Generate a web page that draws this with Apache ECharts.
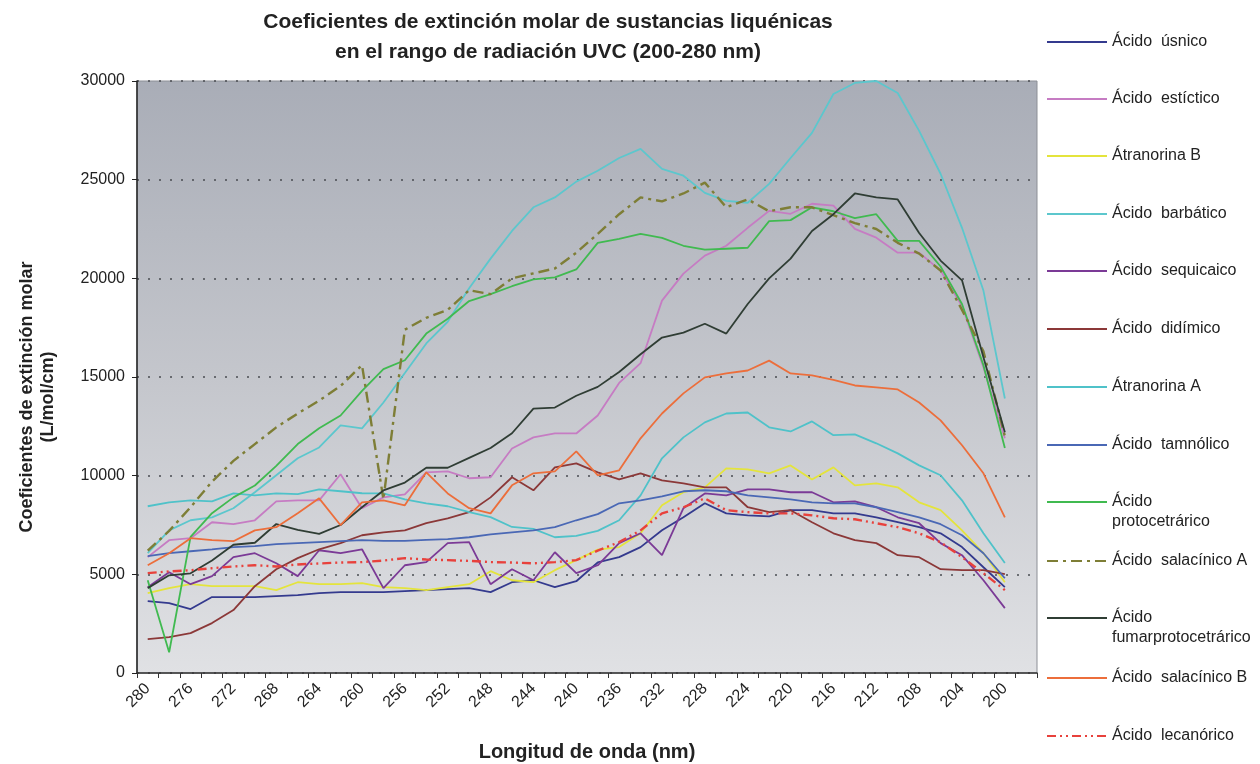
<!DOCTYPE html>
<html>
<head>
<meta charset="utf-8">
<title>Coeficientes de extinción molar</title>
<script src="https://cdn.jsdelivr.net/npm/echarts@6/dist/echarts.min.js"></script>
<style>
  html, body { margin: 0; padding: 0; background: #fff; }
  #chart { width: 1260px; height: 764px; }
</style>
</head>
<body>
<div id="chart"></div>
<script>
// longitudes de onda (nm), de 280 a 198
const wavelengths = ['280', '278', '276', '274', '272', '270', '268', '266', '264', '262',
  '260', '258', '256', '254', '252', '250', '248', '246', '244', '242',
  '240', '238', '236', '234', '232', '230', '228', '226', '224', '222',
  '220', '218', '216', '214', '212', '210', '208', '206', '204', '202',
  '200', '198']

const usnico = [3640, 3540, 3240, 3850, 3850, 3850, 3900, 3950, 4050, 4100,
  4100, 4100, 4150, 4200, 4250, 4300, 4100, 4600, 4700, 4350,
  4650, 5600, 5870, 6380, 7230, 7890, 8600, 8090, 7990, 7940,
  8250, 8250, 8090, 8090, 7890, 7640, 7390, 7080, 6380, 5360, 4350]
const estictico = [5870, 6730, 6830, 7640, 7540, 7740, 8700, 8750, 8750, 10070,
  8350, 8900, 9050, 10170, 10220, 9870, 9920, 11380, 11940, 12140,
  12140, 13050, 14700, 15700, 18870, 20240, 21150, 21650, 22560, 23420,
  23270, 23780, 23680, 22510, 22060, 21300, 21300, 20390, 18600, 15500, 11900]
const atranorinaB = [4050, 4300, 4500, 4400, 4400, 4400, 4200, 4600, 4500, 4500,
  4550, 4350, 4300, 4200, 4350, 4500, 5160, 4700, 4600, 5210,
  5720, 6250, 6380, 7080, 8500, 9160, 9410, 10370, 10320, 10120,
  10520, 9810, 10420, 9510, 9610, 9410, 8650, 8250, 7230, 6070, 4600]
const barbatico = [6070, 7230, 7740, 7890, 8350, 9160, 10020, 10880, 11430, 12550,
  12400, 13710, 15200, 16700, 17800, 19500, 21000, 22400, 23600, 24100,
  24900, 25450, 26100, 26560, 25550, 25200, 24330, 23930, 23830, 24790,
  26100, 27370, 29340, 29900, 30000, 29390, 27470, 25300, 22560, 19380, 13910]
const sequicaico = [4350, 5110, 4500, 4910, 5870, 6070, 5560, 4910, 6220, 6070,
  6270, 4300, 5460, 5620, 6580, 6630, 4500, 5260, 4700, 6120,
  5060, 5460, 6580, 7080, 5970, 8350, 9100, 9000, 9310, 9310,
  9160, 9160, 8650, 8700, 8400, 7890, 7590, 6580, 5970, 4700, 3290]
const didimico = [1720, 1820, 2020, 2530, 3190, 4400, 5260, 5820, 6270, 6580,
  6980, 7130, 7230, 7590, 7840, 8150, 8900, 9920, 9260, 10420,
  10620, 10170, 9810, 10120, 9760, 9610, 9410, 9410, 8400, 8150,
  8250, 7640, 7080, 6730, 6580, 5970, 5870, 5260, 5210, 5210, 5010]
const atranorinaA = [8450, 8650, 8750, 8700, 9100, 9000, 9100, 9060, 9310, 9210,
  9110, 9100, 8800, 8600, 8450, 8150, 7900, 7400, 7300, 6880,
  6950, 7200, 7740, 9000, 10880, 11940, 12700, 13150, 13200, 12450,
  12240, 12750, 12050, 12090, 11640, 11130, 10520, 10020, 8750, 7080, 5570]
const tamnolico = [5920, 6070, 6170, 6270, 6380, 6430, 6530, 6580, 6630, 6680,
  6730, 6700, 6700, 6750, 6780, 6880, 7030, 7130, 7230, 7390,
  7740, 8050, 8600, 8750, 8950, 9210, 9260, 9210, 9000, 8900,
  8800, 8650, 8600, 8600, 8400, 8150, 7890, 7540, 6980, 6070, 4800]
const protocetrarico = [4700, 1050, 6900, 8100, 8900, 9500, 10500, 11600, 12400, 13050,
  14300, 15400, 15850, 17200, 17950, 18850, 19200, 19600, 19950, 20050,
  20450, 21800, 22000, 22250, 22050, 21650, 21450, 21500, 21550, 22900,
  22950, 23600, 23400, 23050, 23250, 21900, 21900, 20600, 18700, 15600, 11400]
const salacinicoA = [6200, 7200, 8400, 9700, 10750, 11600, 12450, 13150, 13800, 14550,
  15600, 8800, 17400, 18000, 18400, 19400, 19200, 20000, 20250, 20500,
  21300, 22250, 23250, 24100, 23900, 24300, 24850, 23600, 24000, 23400,
  23600, 23600, 23200, 22800, 22500, 21800, 21250, 20400, 18400, 16300, 12000]
const fumarprotocetrarico = [4300, 4950, 5050, 5700, 6500, 6600, 7550, 7250, 7050, 7500,
  8400, 9250, 9650, 10400, 10400, 10900, 11400, 12150, 13400, 13450,
  14050, 14500, 15250, 16150, 17000, 17250, 17700, 17200, 18700, 20000,
  21000, 22400, 23250, 24300, 24100, 24000, 22300, 20900, 19900, 16000, 12200]
const salacinicoB = [5460, 6070, 6830, 6730, 6680, 7230, 7390, 8090, 8850, 7490,
  8650, 8750, 8500, 10170, 9100, 8350, 8090, 9510, 10120, 10220,
  11230, 10020, 10270, 11890, 13150, 14170, 14980, 15180, 15330, 15830,
  15180, 15080, 14850, 14570, 14470, 14370, 13710, 12800, 11540, 10120, 7890]
const lecanorico = [5060, 5150, 5210, 5310, 5400, 5460, 5400, 5500, 5550, 5600,
  5620, 5700, 5820, 5750, 5720, 5680, 5620, 5600, 5560, 5620,
  5720, 6200, 6630, 7230, 8090, 8400, 8850, 8250, 8150, 8090,
  8090, 7990, 7840, 7790, 7590, 7390, 7080, 6630, 5870, 5060, 4200]

const yTicks = [0, 5000, 10000, 15000, 20000, 25000, 30000]

const seriesDefs = [
  { name: 'Ácido  úsnico', data: usnico, color: '#343a8e' },
  { name: 'Ácido  estíctico', data: estictico, color: '#c67cc3' },
  { name: 'Átranorina B', data: atranorinaB, color: '#e4e43c' },
  { name: 'Ácido  barbático', data: barbatico, color: '#5cc7cd' },
  { name: 'Ácido  sequicaico', data: sequicaico, color: '#7b3a96' },
  { name: 'Ácido  didímico', data: didimico, color: '#8b3838' },
  { name: 'Átranorina A', data: atranorinaA, color: '#4fc2c9' },
  { name: 'Ácido  tamnólico', data: tamnolico, color: '#4a68b5' },
  { name: 'Ácido\nprotocetrárico', data: protocetrarico, color: '#40ba50' },
  { name: 'Ácido  salacínico A', data: salacinicoA, color: '#7e7e36', dash: [11, 5, 3, 5] },
  { name: 'Ácido\nfumarprotocetrárico', data: fumarprotocetrarico, color: '#2f3d34' },
  { name: 'Ácido  salacínico B', data: salacinicoB, color: '#ec6e3b' },
  { name: 'Ácido  lecanórico', data: lecanorico, color: '#e8413c', dash: [9, 4, 2, 4, 2, 4] }
]

// centro vertical de cada entrada de la leyenda
const legendY = [41, 98, 155, 213, 270, 328, 386, 444, 502, 560, 618, 677, 735]

const FONT = 'Liberation Sans, Arial, sans-serif'

const myChart = echarts.init(document.getElementById('chart'))

const legends = seriesDefs.map(function(s, i) {
  const twoLines = s.name.indexOf('\n') >= 0
  return {
    data: [s.name],
    left: 1046,
    top: twoLines ? legendY[i] - 30 : legendY[i] - 9,
    padding: 0,
    itemWidth: 60,
    itemHeight: 14,
    selectedMode: false,
    itemStyle: { opacity: 0 },
    // linea en blanco delante: el icono queda a la altura de la primera linea
    formatter: function(name) {
      return name.indexOf('\n') >= 0 ? '\u00a0\n' + name : name
    },
    textStyle: {
      fontFamily: FONT,
      fontSize: 16,
      color: '#222',
      lineHeight: 20
    }
  }
})

const option = {
  animation: false,
  color: seriesDefs.map(function(s) { return s.color }),
  title: {
    text: 'Coeficientes de extinción molar de sustancias liquénicas\nen el rango de radiación UVC (200-280 nm)',
    left: 543,
    top: 2,
    textAlign: 'center',
    textStyle: {
      fontFamily: FONT,
      fontSize: 21,
      fontWeight: 'bold',
      color: '#222',
      lineHeight: 30
    }
  },
  legend: legends,
  grid: {
    left: 137,
    right: 223,
    top: 81,
    bottom: 91,
    outerBoundsMode: 'none',
    show: true,
    borderColor: '#8c8f96',
    borderWidth: 1,
    backgroundColor: {
      type: 'linear',
      x: 0, y: 0, x2: 0, y2: 1,
      colorStops: [
        { offset: 0, color: '#a9adb7' },
        { offset: 0.5, color: '#c4c6cc' },
        { offset: 1, color: '#e0e1e4' }
      ]
    }
  },
  xAxis: {
    type: 'category',
    data: wavelengths,
    boundaryGap: true,
    name: 'Longitud de onda (nm)',
    nameLocation: 'middle',
    nameGap: 69,
    nameTextStyle: {
      fontFamily: FONT,
      fontSize: 20,
      fontWeight: 'bold',
      color: '#222'
    },
    axisLine: {
      lineStyle: { color: '#333', width: 1.5 }
    },
    axisTick: {
      show: true,
      interval: 0,
      length: 5,
      lineStyle: { color: '#333' }
    },
    axisLabel: {
      interval: 1,
      rotate: 45,
      fontFamily: FONT,
      fontSize: 16,
      color: '#222',
      margin: 13
    },
    splitLine: { show: false }
  },
  yAxis: {
    type: 'value',
    min: yTicks[0],
    max: yTicks[yTicks.length - 1],
    interval: 5000,
    name: 'Coeficientes de extinción molar\n(L/mol/cm)',
    nameLocation: 'middle',
    nameRotate: 90,
    nameGap: 78,
    nameTextStyle: {
      fontFamily: FONT,
      fontSize: 18,
      fontWeight: 'bold',
      color: '#222',
      lineHeight: 21,
      padding: [0, 40, 0, 0]
    },
    axisLine: {
      show: true,
      lineStyle: { color: '#222', width: 1.5 }
    },
    axisTick: {
      show: true,
      length: 5,
      lineStyle: { color: '#222' }
    },
    axisLabel: {
      fontFamily: FONT,
      fontSize: 16,
      color: '#222',
      margin: 12,
      formatter: function(v) { return String(v) }
    },
    splitLine: {
      show: true,
      lineStyle: { color: '#4a4c52', width: 1.6, type: [2, 9] }
    }
  },
  series: seriesDefs.map(function(s) {
    return {
      name: s.name,
      type: 'line',
      data: s.data,
      symbol: 'none',
      smooth: false,
      lineStyle: {
        width: s.dash ? 2.4 : 1.8,
        color: s.color,
        type: s.dash || 'solid'
      },
      itemStyle: { color: s.color }
    }
  })
}

myChart.setOption(option)
</script>
</body>
</html>
